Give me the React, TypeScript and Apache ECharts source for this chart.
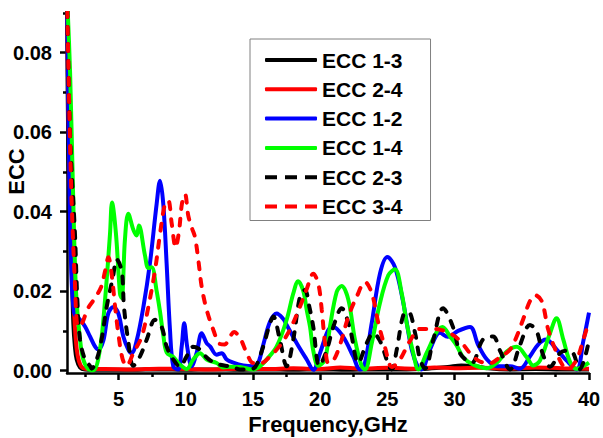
import React, { useEffect, useRef } from "react";
import * as echarts from "echarts";

const FONT = 'Arial, "Liberation Sans", Helvetica, sans-serif';

// Series names, colours and dash flags, in drawing order
const seriesNames = ["ECC 1-3", "ECC 2-4", "ECC 1-2", "ECC 1-4", "ECC 2-3", "ECC 3-4"];
const seriesColors = ["#000000", "#ff0000", "#0000ff", "#00ff00", "#000000", "#ff0000"];
const seriesDashed = [false, false, false, false, true, true];

// Axis ticks
const xMajorTicks = [5, 10, 15, 20, 25, 30, 35, 40];
const xMinorTicks = [2.5, 7.5, 12.5, 17.5, 22.5, 27.5, 32.5, 37.5];
const yMajorTicks = [0, 0.02, 0.04, 0.06, 0.08];
const yMinorTicks = [0.01, 0.03, 0.05, 0.07, 0.09];

// ECC 1-3
const ecc13Freq = [1.17, 1.27, 1.4, 1.52, 1.64, 1.76, 1.89, 2.14, 2.5, 4, 6, 8, 10, 12, 14, 16, 18, 20, 22, 24, 26, 28, 29.5, 30.5, 31.5, 32.5, 34, 36, 38, 40];
const ecc13Val = [0.092, 0.055, 0.038, 0.026, 0.012, 0.006, 0.0028, 0.0008, 0.0003, 0.0002, 0.0002, 0.0003, 0.0002, 0.0003, 0.0002, 0.0003, 0.0002, 0.0003, 0.0002, 0.0003, 0.0003, 0.0005, 0.0009, 0.0013, 0.0011, 0.0006, 0.0003, 0.0004, 0.0003, 0.0003];

// ECC 2-4
const ecc24Freq = [1.17, 1.3, 1.45, 1.6, 1.76, 1.89, 2.05, 2.3, 2.8, 4, 6, 8, 10, 12, 14, 16, 18, 20, 21.5, 23, 25, 27, 28.5, 30, 32, 34, 36, 38, 40];
const ecc24Val = [0.095, 0.06, 0.038, 0.022, 0.011, 0.0055, 0.0025, 0.0008, 0.0004, 0.0004, 0.0003, 0.0005, 0.0004, 0.0003, 0.0005, 0.0004, 0.0006, 0.0004, 0.0008, 0.0005, 0.0007, 0.0005, 0.0008, 0.0006, 0.0007, 0.0005, 0.0008, 0.0006, 0.0005];

// ECC 1-2
const ecc12Freq = [1.17, 1.3, 1.45, 1.7, 2.14, 2.51, 2.88, 3.25, 3.5, 3.87, 4.24, 4.61, 4.98, 5.36, 5.73, 5.98, 6.35, 6.85, 7.34, 7.84, 8.09, 8.33, 8.58, 8.83, 9.08, 9.45, 9.7, 9.89, 10.11, 10.44, 10.81, 11.19, 11.56, 11.81, 12.3, 12.68, 13.05, 13.54, 14.28, 15.03, 15.4, 15.77, 16.27, 16.77, 17.26, 17.51, 18.26, 19.0, 19.49, 19.99, 20.6, 20.98, 21.72, 22.47, 22.96, 23.21, 23.84, 24.45, 25.0, 25.57, 26.19, 26.81, 27.3, 27.55, 28.17, 28.91, 29.5, 30.26, 31.15, 31.75, 32.41, 33.16, 34.13, 34.87, 35.61, 36.2, 36.8, 37.6, 38.34, 39.08, 39.58, 40];
const ecc12Val = [0.095, 0.06, 0.03, 0.0145, 0.0128, 0.0111, 0.0086, 0.0061, 0.0053, 0.0075, 0.0144, 0.016, 0.0145, 0.0086, 0.0053, 0.0044, 0.0075, 0.016, 0.027, 0.042, 0.0478, 0.042, 0.027, 0.0103, 0.001, 0.0003, 0.006, 0.0119, 0.006, 0.0011, 0.0044, 0.0094, 0.0069, 0.0061, 0.004, 0.0044, 0.0028, 0.002, 0.0013, 0.0011, 0.002, 0.0065, 0.0123, 0.0144, 0.013, 0.0115, 0.0069, 0.0028, 0.0002, 0.0044, 0.0102, 0.011, 0.0085, 0.0035, 0.0003, 0.0005, 0.012, 0.0244, 0.0286, 0.026, 0.017, 0.0053, 0.0007, 0.0003, 0.0053, 0.0095, 0.0085, 0.01, 0.011, 0.0065, 0.0028, 0.0011, 0.0011, 0.0005, 0.0036, 0.0065, 0.0078, 0.0053, 0.0025, 0.0003, 0.0075, 0.0146];

// ECC 1-4
const ecc14Freq = [1.17, 1.4, 1.62, 1.84, 2.14, 2.38, 2.75, 3.13, 3.62, 4.0, 4.37, 4.52, 4.81, 5.11, 5.24, 5.48, 5.73, 6.1, 6.35, 6.52, 6.97, 7.22, 7.47, 7.84, 8.09, 8.33, 8.59, 9.08, 9.57, 10.07, 10.56, 11.06, 11.56, 12.3, 12.8, 13.3, 14.04, 15.03, 15.53, 16.02, 16.77, 17.51, 18.0, 18.37, 18.75, 19.0, 19.25, 19.49, 19.86, 20.36, 20.73, 21.23, 21.6, 22.1, 22.59, 23.09, 23.34, 23.84, 24.45, 25.07, 25.57, 26.07, 26.44, 26.93, 27.3, 27.93, 28.67, 29.1, 29.66, 30.16, 30.65, 31.4, 32.39, 33.13, 33.88, 34.62, 35.36, 35.86, 36.35, 37.1, 37.58, 38.09, 38.59, 39.08, 39.58, 40];
const ecc14Val = [0.095, 0.075, 0.045, 0.02, 0.0078, 0.0028, 0.0004, 0.0001, 0.0053, 0.0178, 0.0345, 0.0423, 0.0345, 0.0194, 0.0182, 0.033, 0.0395, 0.0355, 0.034, 0.0365, 0.029, 0.0258, 0.026, 0.02, 0.0148, 0.009, 0.0045, 0.0034, 0.0015, 0.0004, 0.0028, 0.0044, 0.0028, 0.0019, 0.0008, 0.001, 0.0009, 0.0003, 0.0011, 0.0028, 0.0061, 0.0128, 0.0194, 0.0225, 0.02, 0.0153, 0.011, 0.005, 0.0012, 0.0028, 0.011, 0.0198, 0.0213, 0.0178, 0.0078, 0.0011, 0.0003, 0.0069, 0.017, 0.024, 0.0255, 0.0194, 0.0119, 0.0044, 0.0003, 0.0045, 0.0097, 0.011, 0.0086, 0.0063, 0.0033, 0.0015, 0.0006, 0.0019, 0.0048, 0.006, 0.0034, 0.0013, 0.0025, 0.0094, 0.0132, 0.0078, 0.0022, 0.0004, 0.0011, 0.002];

// ECC 2-3
const ecc23Freq = [1.17, 1.39, 1.76, 1.94, 2.14, 2.51, 2.88, 3.0, 3.4, 3.75, 4.12, 4.59, 4.87, 5.24, 5.41, 5.71, 6.1, 6.6, 7.1, 7.72, 8.21, 8.59, 9.08, 9.57, 10.07, 10.54, 11.06, 11.5, 12.0, 12.55, 13.5, 14.04, 15.0, 15.28, 15.77, 16.27, 16.52, 17.0, 17.51, 18.0, 18.5, 18.87, 19.2, 19.49, 19.94, 20.48, 20.98, 21.6, 22.22, 22.84, 23.46, 23.95, 24.45, 25.32, 25.7, 26.19, 26.56, 27.06, 27.43, 27.8, 28.42, 29.14, 29.88, 30.4, 30.92, 31.3, 32.1, 32.86, 33.38, 34.13, 34.87, 35.61, 36.1, 36.58, 37.1, 37.84, 38.34, 38.8, 39.3, 39.93];
const ecc23Val = [0.095, 0.06, 0.0345, 0.0178, 0.0078, 0.0028, 0.0012, 0.0005, 0.003, 0.008, 0.016, 0.0236, 0.028, 0.025, 0.016, 0.0078, 0.0012, 0.0036, 0.0078, 0.0128, 0.011, 0.006, 0.0028, 0.001, 0.0036, 0.006, 0.0053, 0.0035, 0.0022, 0.0015, 0.0009, 0.0003, 0.0005, 0.0015, 0.0061, 0.0119, 0.0136, 0.0078, 0.0011, 0.0078, 0.0186, 0.0203, 0.016, 0.011, 0.0012, 0.005, 0.011, 0.0157, 0.0105, 0.002, 0.0069, 0.0094, 0.0075, 0.0003, 0.0053, 0.014, 0.0148, 0.0095, 0.0028, 0.0005, 0.0078, 0.0157, 0.011, 0.0044, 0.0025, 0.002, 0.0078, 0.0086, 0.005, 0.0003, 0.0065, 0.0115, 0.01, 0.004, 0.001, 0.0044, 0.005, 0.0045, 0.0003, 0.0065];

// ECC 3-4
const ecc34Freq = [1.17, 1.45, 1.76, 2.0, 2.3, 2.7, 3.2, 3.7, 4.0, 4.25, 4.5, 4.75, 5.0, 5.3, 5.6, 6.1, 6.73, 7.22, 7.72, 8.09, 8.46, 8.7, 8.96, 9.25, 9.5, 9.72, 9.95, 10.19, 10.45, 10.69, 10.94, 11.19, 11.56, 12.05, 12.55, 12.9, 13.3, 13.6, 14.1, 14.54, 15.03, 15.6, 16.27, 17.01, 17.75, 18.5, 19.0, 19.49, 19.86, 20.12, 20.36, 20.61, 20.98, 21.48, 22.1, 22.72, 23.34, 23.84, 24.33, 24.83, 25.35, 25.94, 26.69, 27.43, 28.18, 28.92, 29.66, 30.41, 31.15, 31.89, 32.64, 33.38, 34.13, 34.62, 35.11, 35.61, 35.98, 36.48, 36.97, 37.6, 38.09, 38.44, 39.08, 39.58, 40];
const ecc34Val = [0.095, 0.05, 0.022, 0.011, 0.012, 0.0155, 0.018, 0.021, 0.025, 0.0285, 0.024, 0.016, 0.009, 0.003, 0.0012, 0.0044, 0.0086, 0.016, 0.0253, 0.0344, 0.042, 0.0428, 0.037, 0.031, 0.035, 0.042, 0.0444, 0.039, 0.036, 0.0336, 0.0278, 0.0211, 0.0153, 0.0103, 0.0067, 0.0066, 0.0086, 0.0097, 0.0078, 0.0044, 0.0019, 0.0019, 0.0036, 0.0063, 0.0103, 0.0161, 0.0205, 0.0244, 0.0219, 0.0153, 0.0069, 0.0019, 0.0025, 0.0065, 0.0136, 0.0186, 0.0223, 0.0195, 0.012, 0.0058, 0.0009, 0.0028, 0.0075, 0.0105, 0.0105, 0.0103, 0.0094, 0.0075, 0.0044, 0.0023, 0.0019, 0.0034, 0.0053, 0.0086, 0.013, 0.0175, 0.019, 0.0175, 0.0103, 0.0044, 0.0011, 0.0004, 0.0028, 0.0078, 0.0125];

const seriesFreqs = [ecc13Freq, ecc24Freq, ecc12Freq, ecc14Freq, ecc23Freq, ecc34Freq];
const seriesVals = [ecc13Val, ecc24Val, ecc12Val, ecc14Val, ecc23Val, ecc34Val];

const X_MIN = 1.17;
const X_MAX = 40;
const Y_MIN = -0.0006;
const Y_MAX = 0.09;

// Legend glyph for the dashed entries: three short bars
const DASH_ICON = "path://M0,0h12v4h-12z M20,0h12v4h-12z M40,0h12v4h-12z";

const labelStyle = {
  fontFamily: FONT,
  fontSize: 20,
  fontWeight: "bold" as const,
  color: "#000",
};

const axisLineStyle = { color: "#000", width: 2.5 };

export default function App() {
  const ref = useRef<HTMLDivElement>(null);

  useEffect(() => {
    if (!ref.current) return;
    const chart = echarts.init(ref.current, undefined, { renderer: "svg" });

    const series = seriesNames.map((name, i) => ({
      name,
      type: "line",
      xAxisIndex: 0,
      yAxisIndex: 0,
      data: seriesFreqs[i].map((f, k) => [f, seriesVals[i][k]]),
      symbol: "none",
      smooth: 0.35,
      clip: true,
      lineStyle: {
        color: seriesColors[i],
        width: 4,
        type: seriesDashed[i] ? [7, 10] : "solid",
        cap: seriesDashed[i] ? "round" : "butt",
      },
      itemStyle: { color: seriesColors[i] },
      emphasis: { disabled: true },
    }));

    chart.setOption({
      animation: false,
      backgroundColor: "#fff",
      grid: {
        left: 67,
        right: 14,
        top: 13,
        bottom: 65,
        containLabel: false,
        outerBoundsMode: "none",
      },
      xAxis: [
        {
          type: "value",
          min: X_MIN,
          max: X_MAX,
          position: "bottom",
          axisLine: { show: true, onZero: false, lineStyle: axisLineStyle },
          axisTick: {
            show: true,
            inside: false,
            length: 7,
            customValues: xMajorTicks,
            lineStyle: axisLineStyle,
          },
          axisLabel: {
            ...labelStyle,
            lineHeight: 16,
            margin: 18,
            customValues: xMajorTicks,
          },
          splitLine: { show: false },
          name: "Frequency,GHz",
          nameLocation: "middle",
          nameGap: 41,
          nameMoveOverlap: false,
          nameTextStyle: { ...labelStyle, fontSize: 22, lineHeight: 20 },
        },
        {
          type: "value",
          min: X_MIN,
          max: X_MAX,
          position: "bottom",
          axisLine: { show: false, onZero: false },
          axisTick: {
            show: true,
            inside: false,
            length: 4,
            customValues: xMinorTicks,
            lineStyle: axisLineStyle,
          },
          axisLabel: { show: false },
          splitLine: { show: false },
        },
      ],
      yAxis: [
        {
          type: "value",
          min: Y_MIN,
          max: Y_MAX,
          position: "left",
          axisLine: { show: true, onZero: false, lineStyle: axisLineStyle },
          axisTick: {
            show: true,
            inside: false,
            length: 7,
            customValues: yMajorTicks,
            lineStyle: axisLineStyle,
          },
          axisLabel: {
            ...labelStyle,
            margin: 15,
            customValues: yMajorTicks,
            formatter: (v: number) => v.toFixed(2),
          },
          splitLine: { show: false },
          name: "ECC",
          nameLocation: "middle",
          nameRotate: 90,
          nameGap: 40,
          nameMoveOverlap: false,
          nameTextStyle: { ...labelStyle, fontSize: 22, padding: [0, 0, 0, 43] },
        },
        {
          type: "value",
          min: Y_MIN,
          max: Y_MAX,
          position: "left",
          axisLine: { show: false, onZero: false },
          axisTick: {
            show: true,
            inside: false,
            length: 4,
            customValues: yMinorTicks,
            lineStyle: axisLineStyle,
          },
          axisLabel: { show: false },
          splitLine: { show: false },
        },
      ],
      legend: {
        orient: "vertical",
        left: 250,
        top: 39,
        itemWidth: 52,
        itemHeight: 4,
        itemGap: 5.3,
        padding: [9, 28, 2, 15],
        borderColor: "#808080",
        borderWidth: 1,
        backgroundColor: "#fff",
        selectedMode: false,
        textStyle: { ...labelStyle, fontSize: 21, lineHeight: 24 },
        data: seriesNames.map((name, i) => ({
          name,
          icon: seriesDashed[i] ? DASH_ICON : "roundRect",
        })),
      },
      series,
    });

    return () => {
      chart.dispose();
    };
  }, []);

  return (
    <div
      ref={ref}
      style={{ position: "absolute", left: 0, top: 0, width: 603, height: 438, background: "#fff" }}
    />
  );
}
